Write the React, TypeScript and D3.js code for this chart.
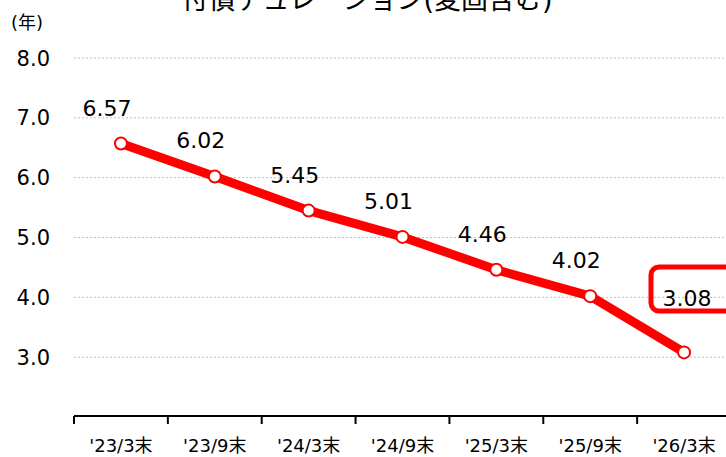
import React from 'react';
import * as d3 from 'd3';

const categories = ["'23/3末", "'23/9末", "'24/3末", "'24/9末", "'25/3末", "'25/9末", "'26/3末"];
const durations = [6.57, 6.02, 5.45, 5.01, 4.46, 4.02, 3.08];
const yTicks = [3, 4, 5, 6, 7, 8];

const title = '付債デュレーション(変固含む)';
const unitLabel = '(年)';

const W = 726;
const H = 457;
const font = '"DejaVu Sans", "Noto Sans CJK JP", sans-serif';

const App = () => {
  const x = d3.scaleBand<string>().domain(categories).range([74, 731]).padding(0);
  const y = d3.scaleLinear().domain([2, 8]).range([417, 58]);
  const cx = (c: string) => (x(c) as number) + x.bandwidth() / 2;

  const line = d3
    .line<number>()
    .x((_, i) => cx(categories[i]))
    .y((d) => y(d));

  const last = durations.length - 1;

  return (
    <div style={{ position: 'absolute', left: 0, top: 0 }}>
      <svg width={W} height={H} style={{ display: 'block', background: '#fff' }}>
        {/* title, cut off at the top like in the original */}
        <text x={367} y={9} textAnchor="middle" fontFamily={font} fontSize={27} fill="#000">
          {title}
        </text>
        <text x={11} y={29} fontFamily={font} fontSize={18} fill="#000">
          {unitLabel}
        </text>

        {/* grid + y labels */}
        {yTicks.map((t) => (
          <g key={t}>
            <line x1={74} x2={W} y1={y(t)} y2={y(t)} stroke="#c0c0c0" strokeWidth={1} strokeDasharray="2,2" />
            <text x={50} y={y(t)} dy="0.36em" textAnchor="end" fontFamily={font} fontSize={21} fill="#000">
              {t.toFixed(1)}
            </text>
          </g>
        ))}

        {/* x axis */}
        <line x1={74} x2={W} y1={416} y2={416} stroke="#000" strokeWidth={2} />
        {categories.map((c) => (
          <g key={c}>
            <line x1={x(c)} x2={x(c)} y1={416} y2={424} stroke="#000" strokeWidth={2} />
            <text x={cx(c)} y={452} textAnchor="middle" fontFamily={font} fontSize={18} fill="#000">
              {c}
            </text>
          </g>
        ))}

        {/* series */}
        <path d={line(durations) || ''} fill="none" stroke="#ff0000" strokeWidth={9} strokeLinejoin="round" />
        {durations.map((d, i) => (
          <circle key={i} cx={cx(categories[i])} cy={y(d)} r={6} fill="#fff" stroke="#ff0000" strokeWidth={2} />
        ))}

        {/* data labels */}
        {durations.map((d, i) => {
          const px = cx(categories[i]);
          const py = y(d);
          const isLast = i === last;
          return (
            <text
              key={'l' + i}
              x={isLast ? px + 3 : px - 14}
              y={isLast ? py - 46 : py - 28}
              textAnchor="middle"
              fontFamily={font}
              fontSize={22}
              fill="#000"
            >
              {d.toFixed(2)}
            </text>
          );
        })}
        <rect
          x={651}
          y={267}
          width={90}
          height={44}
          rx={8}
          fill="none"
          stroke="#ff0000"
          strokeWidth={5}
        />
      </svg>
    </div>
  );
};

export default App;
